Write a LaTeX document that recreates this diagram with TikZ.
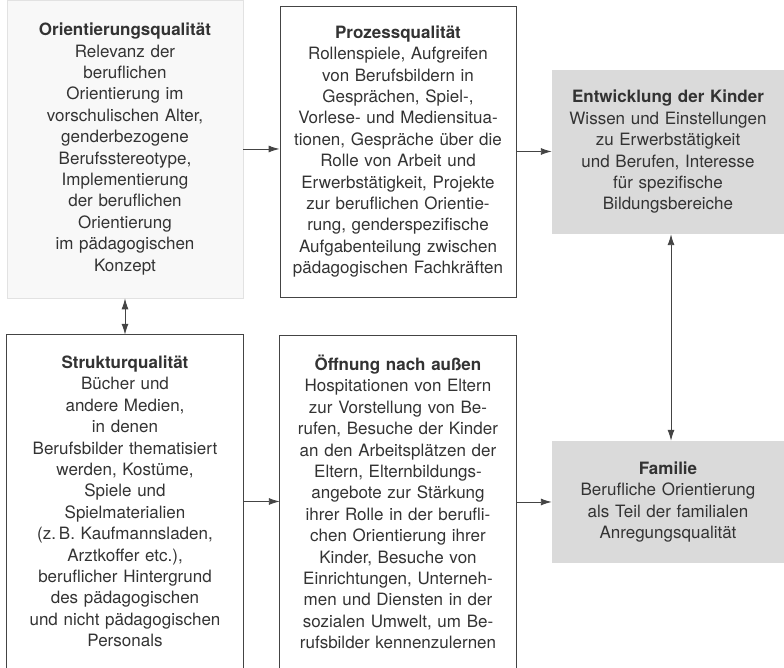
\documentclass[tikz,border=0pt]{standalone}
\usepackage{fontspec}
\setmainfont{TeX Gyre Heros}
\usetikzlibrary{arrows.meta}

\definecolor{boxgray}{HTML}{DADADA}
\definecolor{palegray}{HTML}{F8F8F8}
\definecolor{edgegray}{HTML}{E2E2E2}
\definecolor{linegray}{HTML}{444444}
\definecolor{textgray}{HTML}{333333}

\begin{document}
\begin{tikzpicture}[x=1pt, y=1pt,
  txt/.style={align=center, text=textgray, inner sep=0pt,
    text width=228pt, font={\fontsize{17}{21.4}\selectfont}},
  framed/.style={txt, draw=linegray, line width=0.9pt, minimum width=236pt},
  pale/.style={txt, fill=palegray, draw=edgegray, line width=0.8pt, minimum width=236pt},
  shaded/.style={txt, fill=boxgray, minimum width=232pt},
  arr/.style={-{Latex[length=11pt,width=7pt]}, draw=linegray, line width=0.9pt},
  biarr/.style={{Latex[length=11pt,width=7pt]}-{Latex[length=11pt,width=7pt]}, draw=linegray, line width=0.9pt}]

  \useasboundingbox (0,0) rectangle (784,668); %% page size

  %% upper row
  \node[pale, minimum height=298pt] (orient) at (125,519)
  {\textbf{Orientierungsqualität}\\Relevanz der\\beruflichen\\Orientierung im\\
   vorschulischen Alter,\\genderbezogene\\Berufsstereotype,\\Implementierung\\
   der beruflichen\\Orientierung\\im pädagogischen\\Konzept};

  \node[framed, minimum height=291pt] (prozess) at (398,516.5)
  {\textbf{Prozessqualität}\\Rollenspiele, Aufgreifen\\von Berufsbildern in\\
   Gesprächen, Spiel-,\\Vorlese- und Mediensitua-\\tionen, Gespräche über die\\
   Rolle von Arbeit und\\Erwerbstätigkeit, Projekte\\zur beruflichen Orientie-\\
   rung, genderspezifische\\Aufgabenteilung zwischen\\pädagogischen Fachkräften};

  \node[shaded, minimum height=164pt] (kinder) at (668,516)
  {\textbf{Entwicklung der Kinder}\\Wissen und Einstellungen\\zu Erwerbstätigkeit\\
   und Berufen, Interesse\\für spezifische\\Bildungsbereiche};

  %% lower row (open at the bottom)
  \node[txt, minimum width=236pt, minimum height=333pt] (struktur) at (125,166.5)
  {\textbf{Strukturqualität}\\Bücher und\\andere Medien,\\in denen\\
   Berufsbilder thematisiert\\werden, Kostüme,\\Spiele und\\Spielmaterialien\\
   (z.\,B. Kaufmannsladen,\\Arztkoffer etc.),\\beruflicher Hintergrund\\
   des pädagogischen\\und nicht pädagogischen\\Personals};
  \draw[draw=linegray, line width=0.9pt]
  (struktur.south west) |- (struktur.north east) -- (struktur.south east);

  \node[txt, minimum width=236pt, minimum height=332pt] (oeffnung) at (398,166)
  {\textbf{Öffnung nach außen}\\Hospitationen von Eltern\\zur Vorstellung von Be-\\
   rufen, Besuche der Kinder\\an den Arbeitsplätzen der\\Eltern, Elternbildungs-\\
   angebote zur Stärkung\\ihrer Rolle in der berufli-\\chen Orientierung ihrer\\
   Kinder, Besuche von\\Einrichtungen, Unterneh-\\men und Diensten in der\\
   sozialen Umwelt, um Be-\\rufsbilder kennenzulernen};
  \draw[draw=linegray, line width=0.9pt]
  (oeffnung.south west) |- (oeffnung.north east) -- (oeffnung.south east);

  \node[shaded, minimum height=122pt] (familie) at (668,166)
  {\textbf{Familie}\\Berufliche Orientierung\\als Teil der familialen\\
   Anregungsqualität};

  %% connectors
  \draw[arr] (orient.east) -- (orient.east -| prozess.west);
  \draw[arr] (prozess.east) -- (prozess.east -| kinder.west);
  \draw[arr] (struktur.east) -- (struktur.east -| oeffnung.west);
  \draw[arr] (oeffnung.east) -- (oeffnung.east -| familie.west);
  \draw[biarr] (orient.south) -- (struktur.north);
  \draw[biarr] ([xshift=3pt]kinder.south) -- ([xshift=3pt]familie.north);

\end{tikzpicture}
\end{document}
